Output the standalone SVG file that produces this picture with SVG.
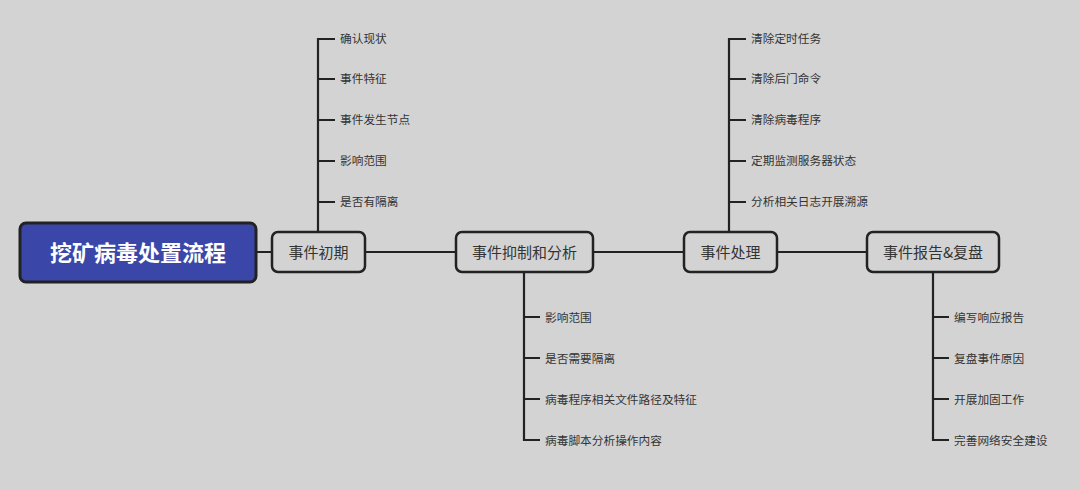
<svg xmlns="http://www.w3.org/2000/svg" width="1080" height="490" viewBox="0 0 1080 490">
<style>
.bg{fill:#d3d3d3}
.node rect{fill:#d3d3d3;stroke:#222;stroke-width:2.5}
.root rect{fill:#3a47a9;stroke:#222;stroke-width:3}
.nt{font-family:"Noto Sans CJK SC","Liberation Sans",sans-serif;font-size:15px;fill:#333;text-anchor:middle;dominant-baseline:central}
.rt{font-family:"Noto Sans CJK SC","Liberation Sans",sans-serif;font-size:22px;font-weight:bold;fill:#fff;text-anchor:middle;dominant-baseline:central}
.lt{font-family:"Noto Sans CJK SC","Liberation Sans",sans-serif;font-size:11.7px;fill:#333;dominant-baseline:central}
.c{stroke:#222;stroke-width:2.2;fill:none}
</style>
<rect class="bg" x="0" y="0" width="1080" height="490"/>
<g id="connectors">
<path class="c" d="M256 252H272M365 252H456M593 252H684M777 252H867"/>
<path class="c" d="M318 232V39H335M318 79H335M318 120H335M318 161H335M318 202H335"/>
<path class="c" d="M729 232V39H746M729 79H746M729 120H746M729 161H746M729 202H746"/>
<path class="c" d="M524 272V440H540M524 317H540M524 358H540M524 399H540"/>
<path class="c" d="M933 272V440H949M933 317H949M933 358H949M933 399H949"/>
</g>
<g id="root" class="root"><rect x="20" y="223" width="236" height="59" rx="6"/><text class="rt" x="138" y="251">挖矿病毒处置流程</text></g>
<g id="n1" class="node"><rect x="272" y="232" width="93" height="40" rx="6"/><text class="nt" x="318.5" y="251">事件初期</text></g>
<g id="n2" class="node"><rect x="456" y="232" width="137" height="40" rx="6"/><text class="nt" x="524.5" y="251">事件抑制和分析</text></g>
<g id="n3" class="node"><rect x="684" y="232" width="93" height="40" rx="6"/><text class="nt" x="730.5" y="251">事件处理</text></g>
<g id="n4" class="node"><rect x="867" y="232" width="132" height="40" rx="6"/><text class="nt" x="933" y="251">事件报告&amp;复盘</text></g>
<g id="l1"><text class="lt" x="340" y="37.5">确认现状</text></g>
<g id="l2"><text class="lt" x="340" y="77.5">事件特征</text></g>
<g id="l3"><text class="lt" x="340" y="118.5">事件发生节点</text></g>
<g id="l4"><text class="lt" x="340" y="159.5">影响范围</text></g>
<g id="l5"><text class="lt" x="340" y="200.5">是否有隔离</text></g>
<g id="l6"><text class="lt" x="751" y="37.5">清除定时任务</text></g>
<g id="l7"><text class="lt" x="751" y="77.5">清除后门命令</text></g>
<g id="l8"><text class="lt" x="751" y="118.5">清除病毒程序</text></g>
<g id="l9"><text class="lt" x="751" y="159.5">定期监测服务器状态</text></g>
<g id="l10"><text class="lt" x="751" y="200.5">分析相关日志开展溯源</text></g>
<g id="l11"><text class="lt" x="545" y="316">影响范围</text></g>
<g id="l12"><text class="lt" x="545" y="357">是否需要隔离</text></g>
<g id="l13"><text class="lt" x="545" y="398">病毒程序相关文件路径及特征</text></g>
<g id="l14"><text class="lt" x="545" y="439">病毒脚本分析操作内容</text></g>
<g id="l15"><text class="lt" x="954" y="316">编写响应报告</text></g>
<g id="l16"><text class="lt" x="954" y="357">复盘事件原因</text></g>
<g id="l17"><text class="lt" x="954" y="398">开展加固工作</text></g>
<g id="l18"><text class="lt" x="954" y="439">完善网络安全建设</text></g>
</svg>
